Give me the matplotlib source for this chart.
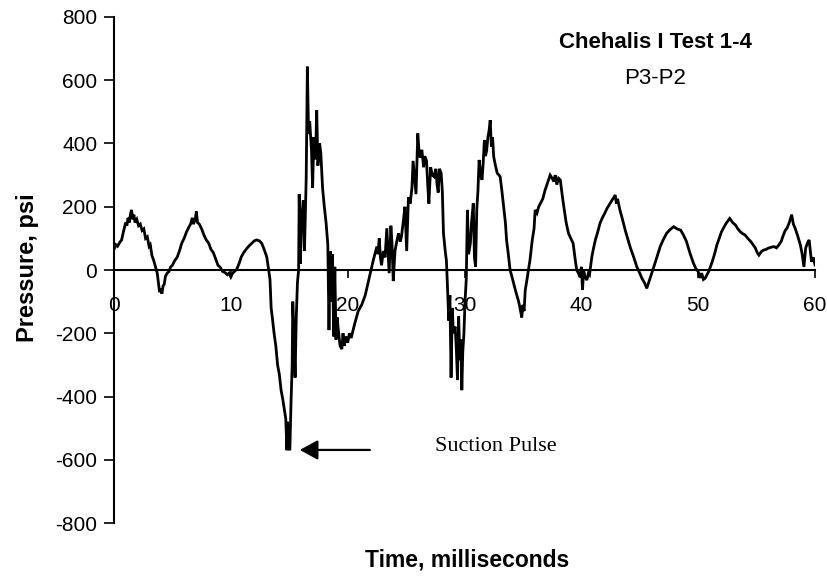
import matplotlib
matplotlib.use("Agg")
import matplotlib.pyplot as plt

# ---- data ----
time_ms = [
    0.0, 0.15, 0.3, 0.5, 0.65, 0.8, 0.9, 1.0, 1.1, 1.2, 1.3, 1.4, 1.5, 1.6, 1.7, 1.8, 1.95,
    2.1, 2.25, 2.4, 2.55, 2.7, 2.85, 3.0, 3.1, 3.25, 3.4, 3.55, 3.7, 3.8, 3.9, 4.0, 4.1, 4.2,
    4.3, 4.4, 4.55, 4.7, 4.85, 5.0, 5.2, 5.4, 5.6, 5.8, 6.0, 6.2, 6.4, 6.55, 6.7, 6.8, 6.95,
    7.05, 7.15, 7.3, 7.5, 7.7, 7.9, 8.1, 8.3, 8.5, 8.7, 8.9, 9.1, 9.3, 9.5, 9.7, 9.85, 10.0,
    10.15, 10.3, 10.5, 10.7, 10.9, 11.1, 11.3, 11.5, 11.8, 12.0, 12.2, 12.45, 12.65, 12.85,
    13.07, 13.2, 13.35, 13.45, 13.55, 13.7, 13.85, 14.0, 14.15, 14.3, 14.45, 14.6, 14.7, 14.8,
    14.85, 14.95, 15.05, 15.15, 15.25, 15.3, 15.4, 15.5, 15.6, 15.7, 15.8, 15.85, 15.95, 16.05,
    16.2, 16.3, 16.45, 16.55, 16.65, 16.75, 16.9, 17.0, 17.1, 17.25, 17.35, 17.45, 17.6, 17.7,
    17.85, 18.0, 18.15, 18.3, 18.4, 18.5, 18.6, 18.7, 18.8, 18.9, 19.0, 19.1, 19.2, 19.35,
    19.5, 19.6, 19.7, 19.85, 20.0, 20.15, 20.3, 20.6, 20.9, 21.2, 21.5, 21.75, 22.0, 22.2,
    22.4, 22.5, 22.6, 22.7, 22.8, 22.9, 23.05, 23.2, 23.35, 23.45, 23.55, 23.7, 23.8, 23.9,
    24.05, 24.2, 24.35, 24.5, 24.6, 24.75, 24.9, 25.05, 25.2, 25.35, 25.5, 25.6, 25.75, 25.85,
    26.0, 26.1, 26.2, 26.35, 26.5, 26.6, 26.75, 26.85, 26.95, 27.1, 27.25, 27.4, 27.55, 27.65,
    27.75, 27.85, 28.0, 28.1, 28.2, 28.35, 28.45, 28.55, 28.65, 28.75, 28.85, 28.95, 29.05,
    29.2, 29.3, 29.4, 29.5, 29.6, 29.7, 29.77, 29.85, 29.95, 30.05, 30.15, 30.25, 30.35, 30.5,
    30.6, 30.75, 30.85, 30.95, 31.05, 31.15, 31.25, 31.4, 31.5, 31.6, 31.7, 31.8, 31.9, 32.0,
    32.1, 32.2, 32.3, 32.4, 32.5, 32.65, 32.8, 32.95, 33.05, 33.2, 33.35, 33.5, 33.6, 33.75,
    33.9, 34.05, 34.2, 34.4, 34.6, 34.75, 34.9, 35.0, 35.1, 35.2, 35.35, 35.47, 35.6, 35.8,
    35.95, 36.05, 36.2, 36.35, 36.5, 36.7, 36.9, 37.1, 37.33, 37.5, 37.65, 37.76, 37.9, 38.05,
    38.2, 38.35, 38.5, 38.7, 38.9, 39.1, 39.3, 39.45, 39.6, 39.75, 39.9, 40.0, 40.1, 40.2,
    40.3, 40.47, 40.6, 40.7, 40.9, 41.05, 41.2, 41.4, 41.6, 41.8, 42.0, 42.2, 42.47, 42.7,
    42.9, 43.0, 43.1, 43.3, 43.45, 43.6, 43.8, 44.0, 44.2, 44.47, 44.75, 45.0, 45.18, 45.4,
    45.6, 45.8, 46.0, 46.3, 46.5, 46.75, 47.0, 47.3, 47.6, 47.9, 48.2, 48.5, 48.75, 49.0,
    49.3, 49.6, 49.8, 50.0, 50.15, 50.3, 50.45, 50.6, 50.75, 50.9, 51.05, 51.2, 51.4, 51.6,
    51.8, 52.0, 52.2, 52.4, 52.7, 52.95, 53.2, 53.4, 53.6, 53.8, 54.0, 54.25, 54.5, 54.7,
    54.9, 55.05, 55.2, 55.4, 55.6, 55.8, 56.0, 56.25, 56.5, 56.7, 56.9, 57.1, 57.3, 57.45,
    57.6, 57.8, 58.0, 58.15, 58.3, 58.5, 58.75, 58.9, 59.05, 59.2, 59.35, 59.5, 59.6, 59.7,
    59.85, 60.0,
]
pressure_psi = [
    65, 80, 75, 88, 95, 120, 135, 150, 140, 165, 150, 175, 190, 160, 175, 150, 160,
    140, 145, 125, 130, 100, 105, 75, 80, 45, 30, 10, -10, -40, -70, -60, -75, -50,
    -45, -20, -10, -5, 10, 15, 30, 40, 60, 85, 100, 120, 135, 145, 165, 145, 160,
    185, 150, 145, 130, 110, 95, 85, 65, 55, 35, 15, 8, -5, -8, -15, -10, -22,
    -10, -5, 2, 20, 42, 55, 65, 74, 85, 92, 95, 92, 84, 65,
    42, 10, -30, -120, -150, -200, -240, -300, -330, -380, -410, -445, -470, -570,
    -480, -560, -570, -420, -300, -100, -200, -340, -150, -40, 0, 240, 20, 160,
    220, 60, 290, 643, 430, 470, 380, 260, 420, 350, 505, 330, 400, 370,
    260, 200, 150, 80, -190, 60, -100, 50, -210, 10, -220, -150, -190, -240,
    -250, -200, -240, -210, -230, -200, -215, -170, -130, -110, -80, -40, 0, 32,
    60, 74, 50, 100, 40, 15, 60, 40, 132, 60, -10, 140, 80, -35,
    60, 90, 116, 90, 105, 150, 200, 60, 230, 210, 260, 345, 280, 240,
    432, 380, 355, 380, 325, 360, 345, 270, 210, 325, 300, 295, 320, 270,
    245, 320, 306, 250, 116, 60, 30, -60, -160, -80, -340, -120, -200,
    -179, -250, -348, -147, -285, -220, -380, -260, -200, -95, -30, 190, 50, 84,
    150, 211, 40, 10, 190, 250, 348, 300, 285, 340, 411, 360, 379, 420,
    440, 474, 390, 420, 358, 330, 306, 300, 295, 250, 200, 150, 95, 50,
    0, -20, -42, -70, -95, -120, -150, -110, -130, -63, -30, 0, 30, 95,
    130, 190, 180, 200, 211, 225, 253, 275, 300, 290, 280, 300, 270, 290,
    285, 240, 200, 150, 116, 100, 84, 40, 0, -10, -23, 10, -63, 0,
    -20, -32, -10, -15, 42, 70, 95, 120, 148, 165, 179, 195, 211, 225,
    237, 210, 225, 190, 170, 148, 120, 95, 70, 42, 10, -10, -26, -40,
    -58, -35, -13, 21, 45, 74, 95, 116, 128, 137, 130, 126, 110, 90,
    53, 21, 5, -5, -25, -10, -30, -26, -15, -5, 10, 26, 50, 79,
    100, 121, 135, 148, 163, 150, 142, 130, 121, 115, 111, 100, 90, 80,
    69, 55, 47, 58, 63, 65, 69, 72, 74, 70, 79, 90, 111, 125,
    132, 150, 175, 145, 132, 110, 79, 50, 10, 69, 85, 95, 60, 26,
    40, 16,
]
x_ticks = [0, 10, 20, 30, 40, 50, 60]
y_ticks = [-800, -600, -400, -200, 0, 200, 400, 600, 800]

title_line1 = "Chehalis I Test 1-4"
title_line2 = "P3-P2"
x_label = "Time, milliseconds"
y_label = "Pressure, psi"
note_text = "Suction Pulse"
note_tip = (15.9, -569)
note_tail = (21.9, -569)

plt.rcParams['font.family'] = ['Liberation Sans', 'DejaVu Sans']

fig = plt.figure(figsize=(8.28, 5.76), dpi=100)
ax = fig.add_axes([0.1377, 0.092, 0.8466, 0.8785])

ax.plot(time_ms, pressure_psi, color='black', lw=2.0, solid_joinstyle='miter')

ax.set_xlim(0, 60)
ax.set_ylim(-800, 800)

ax.spines['top'].set_visible(False)
ax.spines['right'].set_visible(False)
ax.spines['bottom'].set_position(('data', 0))
ax.spines['bottom'].set_linewidth(1.5)
ax.spines['left'].set_linewidth(1.5)

ax.set_xticks(x_ticks)
ax.set_xticklabels([str(v) for v in x_ticks])
ax.set_yticks(y_ticks)
ax.set_yticklabels([str(v) for v in y_ticks])
ax.tick_params(axis='x', direction='out', length=6, width=1.2, pad=13, labelsize=15)
ax.tick_params(axis='y', direction='out', length=7, width=1.2, pad=5, labelsize=15)

fig.text(467 / 828, 1 - 560 / 576, x_label, ha='center', va='center',
         fontsize=16.5, fontweight='bold')
fig.text(28 / 828, 1 - 268 / 576, y_label, ha='center', va='center',
         rotation=90, fontsize=17, fontweight='bold')
fig.text(655 / 828, 1 - 42 / 576, title_line1, ha='center', va='center',
         fontsize=16, fontweight='bold')
fig.text(655 / 828, 1 - 78 / 576, title_line2, ha='center', va='center',
         fontsize=16)

ax.annotate('', xy=note_tip, xytext=note_tail,
            arrowprops=dict(arrowstyle='-|>,head_length=1.1,head_width=0.6',
                            color='black', lw=1.6, shrinkA=0, shrinkB=0))
ax.text(27.5, -572, note_text, ha='left', va='baseline',
        fontsize=16, family='Liberation Serif')

fig.savefig('out.png', dpi=100)
